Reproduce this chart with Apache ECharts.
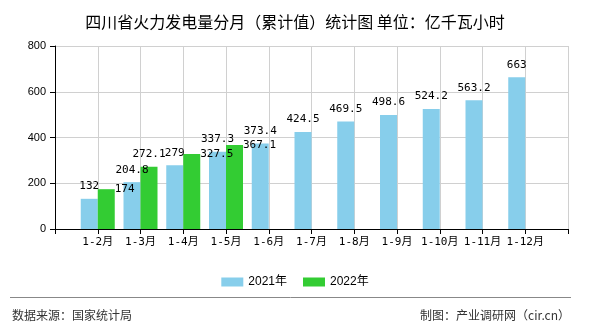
<!DOCTYPE html>
<html>
<head>
<meta charset="utf-8">
<script src="https://cdn.jsdelivr.net/npm/echarts@6/dist/echarts.min.js"></script>
<style>
html,body{margin:0;padding:0;background:#fff;}
#main{width:590px;height:330px;}
</style>
</head>
<body>
<div id="main"></div>
<script>
var categories = ['', '1-2月', '1-3月', '1-4月', '1-5月', '1-6月', '1-7月', '1-8月', '1-9月', '1-10月', '1-11月', '1-12月', ''];
var values2021 = ['-', 132, 204.8, 279, 337.3, 373.4, 424.5, 469.5, 498.6, 524.2, 563.2, 663, '-'];
var values2022 = ['-', 174, 272.1, 327.5, 367.1, '-', '-', '-', '-', '-', '-', '-', '-'];
var seriesNames = ['2021年', '2022年'];
var yTicks = [0, 200, 400, 600, 800];
// 2022 labels that sit beside the bar top instead of above it
var sideLabel2022 = [false, true, false, true, true, false, false, false, false, false, false, false, false];

var chart = echarts.init(document.getElementById('main'), null, {renderer: 'canvas'});
var mono = 'DejaVu Sans Mono, Noto Sans CJK SC, monospace';

var data2022 = values2022.map(function (v, i) {
  if (sideLabel2022[i]) {
    return {value: v, label: {position: ['100%', 0], align: 'left', verticalAlign: 'middle', distance: 0}};
  }
  return v;
});

chart.setOption({
  animation: false,
  backgroundColor: '#fff',
  title: {
    text: '四川省火力发电量分月（累计值）统计图 单位：亿千瓦小时',
    left: 'center',
    top: 9,
    textStyle: {fontFamily: 'Noto Sans CJK SC', fontSize: 16, fontWeight: 'normal', color: '#000'}
  },
  legend: {
    data: seriesNames,
    left: 'center',
    top: 271,
    itemWidth: 22,
    itemHeight: 9,
    itemGap: 16,
    textStyle: {fontFamily: 'Liberation Sans, Noto Sans CJK SC', fontSize: 12, color: '#000'},
    icon: 'rect'
  },
  grid: {left: 55, right: 22, top: 46, bottom: 101, containLabel: false},
  xAxis: {
    type: 'category',
    data: categories,
    boundaryGap: false,
    axisLine: {lineStyle: {color: '#000', width: 1}},
    axisTick: {show: true, length: 5, interval: 0, lineStyle: {color: '#000'}},
    axisLabel: {interval: 0, margin: 8, fontFamily: mono, fontSize: 11, color: '#000'},
    splitLine: {show: true, interval: 0, lineStyle: {color: '#d0d0d0'}}
  },
  yAxis: {
    type: 'value',
    min: yTicks[0],
    max: yTicks[yTicks.length - 1],
    interval: 200,
    axisLine: {show: true, lineStyle: {color: '#000'}},
    axisTick: {show: true, length: 5, lineStyle: {color: '#000'}},
    axisLabel: {margin: 9, fontFamily: 'Liberation Sans', fontSize: 11, color: '#000'},
    splitLine: {show: true, lineStyle: {color: '#d0d0d0'}}
  },
  series: [
    {
      name: seriesNames[0],
      type: 'bar',
      data: values2021,
      barWidth: 17,
      barGap: '0%',
      itemStyle: {color: '#87ceeb'},
      label: {show: true, position: 'top', distance: 7, fontFamily: mono, fontSize: 11, color: '#000'}
    },
    {
      name: seriesNames[1],
      type: 'bar',
      data: data2022,
      barWidth: 17,
      barGap: '0%',
      itemStyle: {color: '#33cc33'},
      label: {show: true, position: 'top', distance: 7, fontFamily: mono, fontSize: 11, color: '#000'}
    }
  ],
  graphic: [
    {type: 'line', shape: {x1: 10, y1: 297.5, x2: 571, y2: 297.5}, style: {stroke: '#888', lineWidth: 1}},
    {type: 'text', left: 12, top: 309, style: {text: '数据来源：国家统计局', font: '12px "Noto Sans CJK SC"', fill: '#333'}},
    {type: 'text', right: 20, top: 309, style: {text: '制图：产业调研网（cir.cn）', font: '12px "Noto Sans CJK SC"', fill: '#333'}}
  ]
});
</script>
</body>
</html>
